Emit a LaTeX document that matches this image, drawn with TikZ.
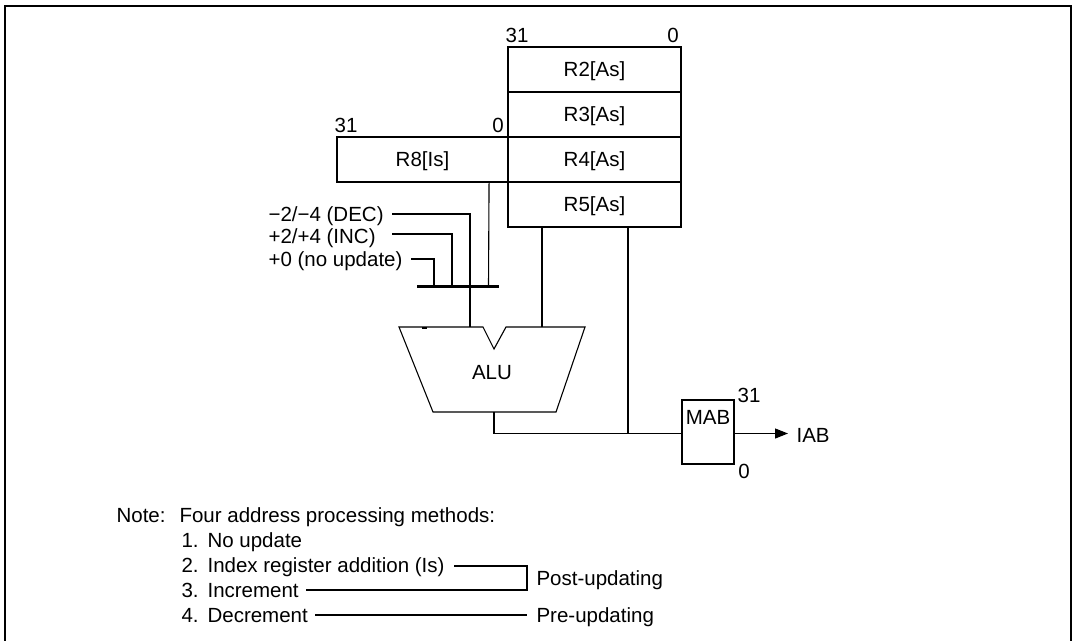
\documentclass[tikz,border=0pt]{standalone}
\usepackage{fontspec}
\setmainfont{Liberation Sans}
\usetikzlibrary{arrows.meta,calc}
\begin{document}
\begin{tikzpicture}[x=1pt,y=-1pt,line width=1.1pt,
  every node/.style={font=\fontsize{20.5}{24}\selectfont},
  txt/.style={inner sep=0pt,text height=14.7pt,text depth=0pt},
  reg/.style={draw,line width=1.1pt,minimum width=173pt,minimum height=45pt,inner sep=0pt,text height=14.7pt,text depth=1pt},
  bus/.style={line width=3pt},
  frame/.style={line width=2pt}]
\useasboundingbox (0,0) rectangle (1075,640);
% outer frame
\draw[frame] (5,646) -- (5,6) -- (1070.5,6) -- (1070.5,646);

% register stack
\node[reg] (r2) at (594.5,69.5) {R2[As]};
\node[reg] (r3) at (594.5,114.5) {R3[As]};
\node[reg] (r4) at (594.5,159.5) {R4[As]};
\node[reg] (r5) at (594.5,204.5) {R5[As]};
\node[reg,minimum width=171pt] (r8) at (422.5,159.5) {R8[Is]};

% bit labels
\node[txt] (b31a) at (517,35) {31};
\node[txt] (b0a) at (673,35) {0};
\node[txt] (b31b) at (346,125) {31};
\node[txt] (b0b) at (498,125) {0};

% selector inputs
\node[txt,anchor=west] (dec) at (268,214) {−2/−4 (DEC)};
\node[txt,anchor=west] (inc) at (268,236) {+2/+4 (INC)};
\node[txt,anchor=west] (nou) at (268,259) {+0 (no update)};

\coordinate (decA) at (392,214);
\coordinate (incA) at (392,234);
\coordinate (nouA) at (411,259);
\coordinate (busL) at (417,286);
\coordinate (busR) at (499,286);
\coordinate (busInc) at (452,286);
\coordinate (busNou) at (434,286);
\coordinate (busR8) at (488.5,286);

% ALU
\coordinate (a1) at (399,327);
\coordinate (a2) at (483,327);
\coordinate (a3) at (494,349);
\coordinate (a4) at (506,327);
\coordinate (a5) at (585,327);
\coordinate (a6) at (556,412);
\coordinate (a7) at (433,412);
\coordinate (aluIn1) at (470,327);
\coordinate (aluIn2) at (542,327);
\coordinate (aluOut) at (494,412);
\coordinate (mabJ) at (628,434);
\draw (a1) -- (a2) -- (a3) -- (a4) -- (a5) -- (a6) -- (a7) -- cycle;
\node[txt] (alu) at (492,372.5) {ALU};
\draw[line width=2pt] (422,327.5) -- (427,327.5);

% bus and its inputs
\draw[bus] (busL) -- (busR);
\draw (decA) -| (aluIn1);
\draw (incA) -| (busInc);
\draw (nouA) -| (busNou);
\draw ([xshift=-19.5pt]r8.south east) -- (busR8);
\draw (r5.south -| aluIn2) -- (aluIn2);
\draw (r5.south -| mabJ) -- (mabJ);

% MAB
\node[draw,minimum width=52pt,minimum height=64pt,inner sep=0pt] (mab) at (708,432) {};
\node[txt] (mabt) at (708,417) {MAB};
\node[txt] (m31) at (749,395) {31};
\node[txt] (m0) at (744,471) {0};
\draw (aluOut) |- ([yshift=-1.5pt]mab.west);
\coordinate (iabA) at (788,433.5);
\draw[-{Triangle[length=13pt,width=10pt]}] ([yshift=-1.5pt]mab.east) -- (iabA);
\node[txt,anchor=west] (iab) at (796,435) {IAB};

% note
\node[txt,anchor=west] (note) at (116,515) {Note:};
\node[txt,anchor=west] (four) at (179,515) {Four address processing methods:};
\node[txt,anchor=west] (n1) at (181,540) {1.};
\node[txt,anchor=west] (i1) at (207,540) {No update};
\node[txt,anchor=west] (n2) at (181,565) {2.};
\node[txt,anchor=west] (i2) at (207,565) {Index register addition (Is)};
\node[txt,anchor=west] (n3) at (181,590) {3.};
\node[txt,anchor=west] (i3) at (207,590) {Increment};
\node[txt,anchor=west] (n4) at (181,615) {4.};
\node[txt,anchor=west] (i4) at (207,615) {Decrement};
\node[txt,anchor=west] (post) at (536,578) {Post-updating};
\node[txt,anchor=west] (pre) at (536,615) {Pre-updating};
\coordinate (postv) at (527,578);
\coordinate (i2A) at (454,566);
\coordinate (i3A) at (306,590);
\coordinate (i4A) at (315,615);
\draw (i2A) -- (i2A -| postv) -- (i3A -| postv) -- (i3A);
\draw (i4A) -- (i4A -| postv);
\end{tikzpicture}
\end{document}
